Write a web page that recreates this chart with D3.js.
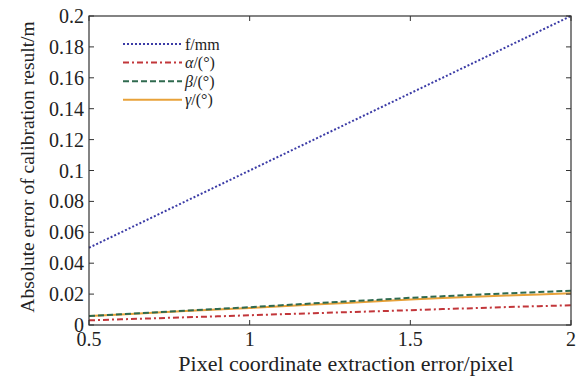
<!DOCTYPE html>
<html>
<head>
<meta charset="utf-8">
<script src="https://cdn.jsdelivr.net/npm/d3@7"></script>
<style>
  body { margin: 0; background: #fff; }
  text { font-family: "Liberation Serif", "Times New Roman", serif; fill: #222; }
</style>
</head>
<body>
<div id="chart"></div>
<script>
// pixel coordinate extraction error (x)
const xs = [0.5, 0.6, 0.7, 0.8, 0.9, 1.0, 1.1, 1.2, 1.3, 1.4, 1.5, 1.6, 1.7, 1.8, 1.9, 2.0];
const fErr = [0.05, 0.06, 0.07, 0.08, 0.09, 0.10, 0.11, 0.12, 0.13, 0.14, 0.15, 0.16, 0.17, 0.18, 0.19, 0.20];
const alphaErr = [0.0030, 0.0037, 0.0043, 0.0050, 0.0056, 0.0063, 0.0070, 0.0076, 0.0083, 0.0089, 0.0096, 0.0103, 0.0109, 0.0116, 0.0122, 0.0128];
const betaErr = [0.0058, 0.0069, 0.0081, 0.0093, 0.0104, 0.0115, 0.0128, 0.0140, 0.0152, 0.0163, 0.0176, 0.0186, 0.0196, 0.0205, 0.0213, 0.0222];
const gammaErr = [0.0058, 0.0068, 0.0079, 0.0090, 0.0100, 0.0110, 0.0121, 0.0132, 0.0143, 0.0154, 0.0165, 0.0174, 0.0183, 0.0191, 0.0198, 0.0205];

const xTicks = [0.5, 1, 1.5, 2];
const xTickLabels = ['0.5', '1', '1.5', '2'];
const yTicks = [0, 0.02, 0.04, 0.06, 0.08, 0.1, 0.12, 0.14, 0.16, 0.18, 0.2];
const yTickLabels = ['0', '0.02', '0.04', '0.06', '0.08', '0.1', '0.12', '0.14', '0.16', '0.18', '0.2'];

const seriesNames = ['f/mm', 'α', 'β', 'γ'];

const width = 580, height = 376;
const margin = { left: 89, right: 9, top: 16, bottom: 51 };

const svg = d3.select('#chart').append('svg')
  .attr('width', width)
  .attr('height', height);

const x = d3.scaleLinear().domain([0.5, 2]).range([margin.left, width - margin.right]);
const y = d3.scaleLinear().domain([0, 0.2]).range([height - margin.bottom, margin.top]);

// series styles (matlab-like)
const series = [
  { name: seriesNames[0], values: fErr, color: '#3b3ba6', dash: '2,2', width: 2 },
  { name: seriesNames[1], values: alphaErr, color: '#c2363a', dash: '6,3,2,3', width: 2 },
  { name: seriesNames[2], values: betaErr, color: '#2f6a4f', dash: '6,3', width: 2 },
  { name: seriesNames[3], values: gammaErr, color: '#e8a23a', dash: null, width: 2 }
];

const line = d3.line()
  .x((d, i) => x(xs[i]))
  .y(d => y(d));

const plot = svg.append('g');

// draw gamma first so the dashed lines sit on top
[series[3], series[2], series[1], series[0]].forEach(s => {
  plot.append('path')
    .datum(s.values)
    .attr('d', line)
    .attr('fill', 'none')
    .attr('stroke', s.color)
    .attr('stroke-width', s.width)
    .attr('stroke-dasharray', s.dash);
});

// axes box
const x0 = margin.left, x1 = width - margin.right;
const y0 = height - margin.bottom, y1 = margin.top;

svg.append('rect')
  .attr('x', x0).attr('y', y1)
  .attr('width', x1 - x0).attr('height', y0 - y1)
  .attr('fill', 'none')
  .attr('stroke', '#333')
  .attr('stroke-width', 1.2);

const tickLen = 5;

// x ticks (inside, bottom and top)
const xAxis = svg.append('g');
xTicks.forEach((t, i) => {
  xAxis.append('line')
    .attr('x1', x(t)).attr('x2', x(t))
    .attr('y1', y0).attr('y2', y0 - tickLen)
    .attr('stroke', '#333');
  xAxis.append('line')
    .attr('x1', x(t)).attr('x2', x(t))
    .attr('y1', y1).attr('y2', y1 + tickLen)
    .attr('stroke', '#333');
  xAxis.append('text')
    .attr('x', x(t))
    .attr('y', y0 + 21)
    .attr('text-anchor', 'middle')
    .style('font-size', '20px')
    .text(xTickLabels[i]);
});

// y ticks (inside, left and right)
const yAxis = svg.append('g');
yTicks.forEach((t, i) => {
  yAxis.append('line')
    .attr('x1', x0).attr('x2', x0 + tickLen)
    .attr('y1', y(t)).attr('y2', y(t))
    .attr('stroke', '#333');
  yAxis.append('line')
    .attr('x1', x1).attr('x2', x1 - tickLen)
    .attr('y1', y(t)).attr('y2', y(t))
    .attr('stroke', '#333');
  yAxis.append('text')
    .attr('x', x0 - 5)
    .attr('y', y(t))
    .attr('dy', '0.35em')
    .attr('text-anchor', 'end')
    .style('font-size', '20px')
    .text(yTickLabels[i]);
});

// axis titles
svg.append('text')
  .attr('x', 346)
  .attr('y', 371)
  .attr('text-anchor', 'middle')
  .style('font-size', '22px')
  .text('Pixel coordinate extraction error/pixel');

svg.append('text')
  .attr('transform', `translate(34,167) rotate(-90)`)
  .attr('text-anchor', 'middle')
  .style('font-size', '19.5px')
  .text('Absolute error of calibration result/m');

// legend
const legend = svg.append('g');
series.forEach((s, i) => {
  const ly = 44 + i * 18.6;
  legend.append('line')
    .attr('x1', 123).attr('x2', 182)
    .attr('y1', ly).attr('y2', ly)
    .attr('stroke', s.color)
    .attr('stroke-width', s.width)
    .attr('stroke-dasharray', s.dash);
  const t = legend.append('text')
    .attr('x', 185)
    .attr('y', ly)
    .attr('dy', '0.35em')
    .style('font-size', '16px');
  if (i === 0) {
    t.text(s.name);
  } else {
    t.append('tspan').style('font-style', 'italic').text(s.name);
    t.append('tspan').text('/(°)');
  }
});
</script>
</body>
</html>
